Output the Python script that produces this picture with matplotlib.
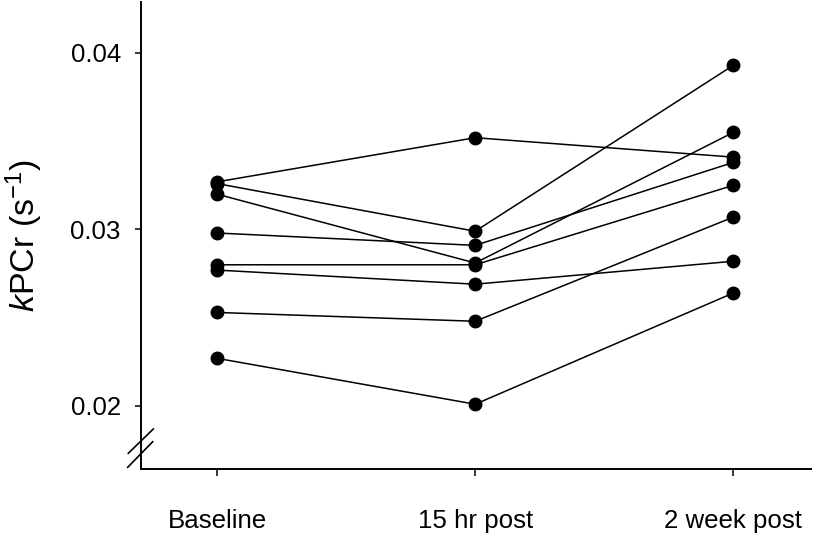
import matplotlib
matplotlib.use("Agg")
import matplotlib.pyplot as plt
from matplotlib.lines import Line2D

plt.rcParams['font.family'] = ['Liberation Sans', 'DejaVu Sans']
plt.rcParams['mathtext.fontset'] = 'custom'
plt.rcParams['mathtext.rm'] = 'Liberation Sans'
plt.rcParams['mathtext.it'] = 'Liberation Sans:italic'

timepoints = ["Baseline", "15 hr post", "2 week post"]
subject1 = [0.0327, 0.0352, 0.0341]
subject2 = [0.0326, 0.0299, 0.0393]
subject3 = [0.0320, 0.0281, 0.0355]
subject4 = [0.0298, 0.0291, 0.0338]
subject5 = [0.0280, 0.0280, 0.0325]
subject6 = [0.0277, 0.0269, 0.0282]
subject7 = [0.0253, 0.0248, 0.0307]
subject8 = [0.0227, 0.0201, 0.0264]
subjects = [subject1, subject2, subject3, subject4, subject5, subject6, subject7, subject8]
yticks = [0.02, 0.03, 0.04]
ytick_labels = ["0.02", "0.03", "0.04"]

fig = plt.figure(figsize=(8.17, 5.36), dpi=100)
ax = fig.add_axes([141/817, 1 - 469/536, (810.7 - 141)/817, (469 - 2.5)/536])

x = list(range(len(timepoints)))
for s in subjects:
    ax.plot(x, s, color='black', linewidth=1.1, marker='o', markersize=9,
            markerfacecolor='black', markeredgecolor='black', clip_on=False)

ax.set_xlim(-0.295, 2.30)
ax.set_ylim(0.01643, 0.04286)
ax.set_xticks(x)
ax.set_xticklabels(timepoints)
ax.set_yticks(yticks)
ax.set_yticklabels(ytick_labels)

for side in ['top', 'right']:
    ax.spines[side].set_visible(False)
for side in ['left', 'bottom']:
    ax.spines[side].set_linewidth(1.4)

ax.tick_params(axis='y', direction='out', length=4.5, width=1.1, labelsize=18.6, pad=10)
ax.tick_params(axis='x', direction='out', length=5, width=1.1, labelsize=18.6, pad=24)

ax.set_ylabel(r'$k$PCr (s$^{-1}$)', fontsize=24.5, labelpad=18)

# axis break marks on the y axis
def px(xp, yp):
    return (xp / 817, 1 - yp / 536)
for (x0, y0, x1, y1) in [(128.3, 453.3, 153.3, 429.0), (127.7, 467.3, 152.7, 441.7)]:
    a = px(x0, y0); b = px(x1, y1)
    fig.add_artist(Line2D([a[0], b[0]], [a[1], b[1]], color='black', linewidth=1.2,
                          transform=fig.transFigure))

fig.savefig("out.png", dpi=100)
